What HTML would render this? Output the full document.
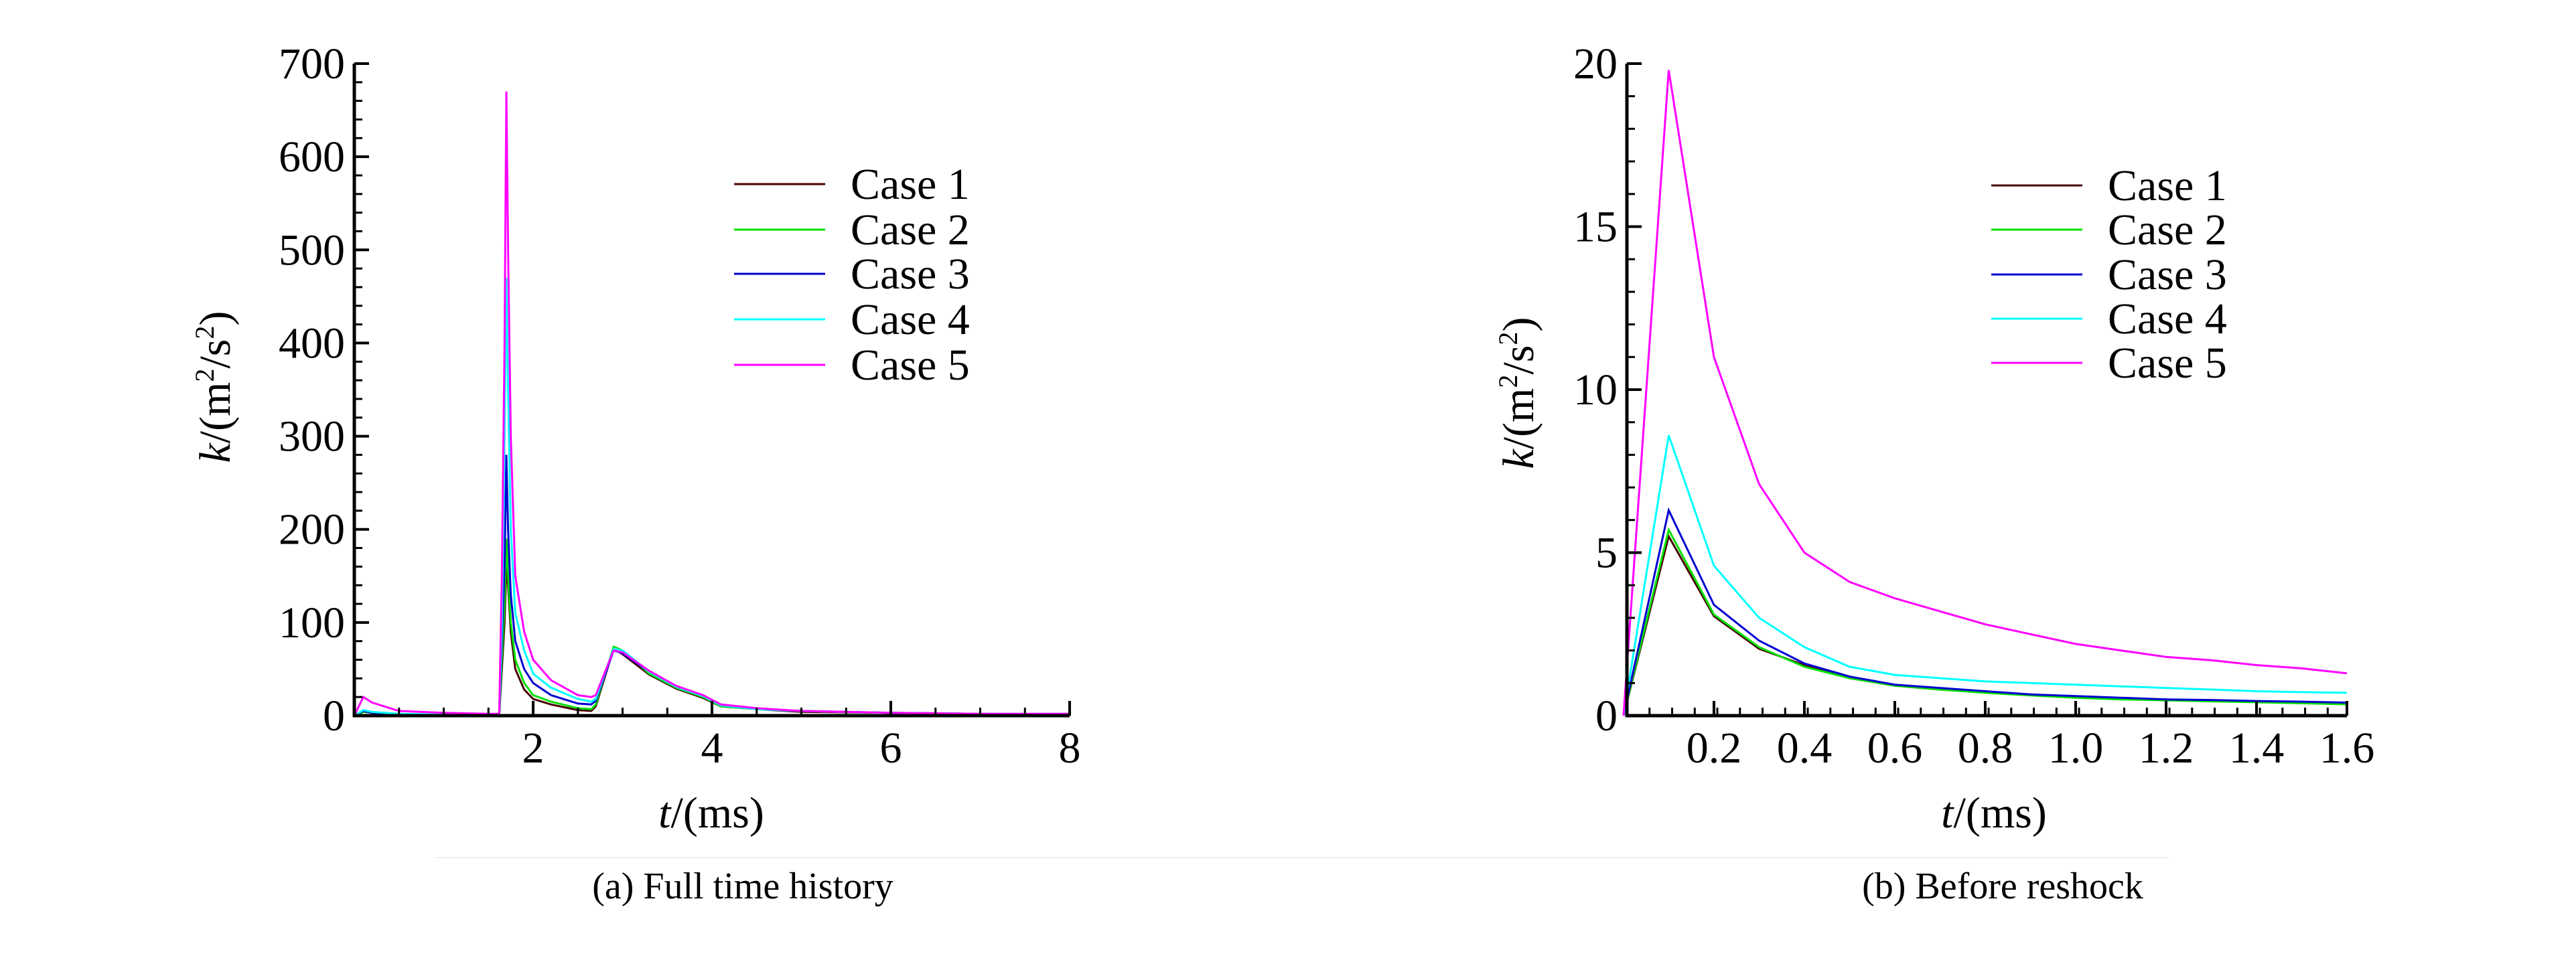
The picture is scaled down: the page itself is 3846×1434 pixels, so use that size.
<!DOCTYPE html>
<html><head><meta charset="utf-8">
<style>
html,body{margin:0;padding:0;background:#fff;}
text, tspan{font-family:"Liberation Serif","DejaVu Serif",serif;}
</style></head>
<body>
<svg id="fig" width="3846" height="1429" viewBox="0 0 3846 1429" xmlns="http://www.w3.org/2000/svg">
<line x1="650" y1="1281" x2="3238" y2="1281" stroke="#eee" stroke-width="2"/>
<text x="1109" y="1342" font-size="56" text-anchor="middle" style="font-family:'Liberation Serif',serif">(a) Full time history</text>
<text x="2990" y="1342" font-size="56" text-anchor="middle" style="font-family:'Liberation Serif',serif">(b) Before reshock</text>
</svg>
<script>
const caseNames = ["Case 1","Case 2","Case 3","Case 4","Case 5"];
const caseColors = ["#4a0000","#00e000","#0000d0","#00ffff","#ff00ff"];
// Panel (a)
const tA = [0,0.1,0.2,0.5,1.0,1.5,1.6,1.62,1.65,1.68,1.7,1.72,1.75,1.8,1.9,2.0,2.2,2.5,2.65,2.7,2.9,3.0,3.3,3.6,3.9,4.1,4.5,5,6,7,8];
const a1 = [0,4,3,1,0.5,0.5,0.5,0,50,100,160,140,90,50,28,18,12,6,5,10,72,66,44,29,19,10,7,4,3,2,1];
const a2 = [0,4,3,1,0.5,0.5,0.5,0,60,120,190,150,100,60,35,22,15,8,7,12,74,70,45,30,20,10,7,5,3,2,1];
const a3 = [0,5,3,1,1,0.5,0.5,0,80,160,280,200,130,80,50,35,22,13,12,16,70,67,47,31,21,11,7,5,3,2,1];
const a4 = [0,6,4,2,1,1,1,0,100,300,470,350,200,110,70,45,30,18,15,18,72,70,47,31,21,11,7,5,3,2,2];
const a5 = [0,20,14,5,3,2,2,0,150,400,670,500,300,150,90,60,38,22,20,22,70,68,48,32,22,12,8,5,3,2,2];
const xTicksA = [2,4,6,8];
const yTicksA = [0,100,200,300,400,500,600,700];
// Panel (b)
const tB = [0,0.1,0.2,0.3,0.4,0.5,0.6,0.7,0.8,0.9,1.0,1.1,1.2,1.3,1.4,1.5,1.6];
const b1 = [0,5.5,3.05,2.05,1.55,1.15,0.92,0.8,0.72,0.65,0.58,0.53,0.5,0.46,0.43,0.4,0.38];
const b2 = [0,5.7,3.1,2.1,1.5,1.15,0.92,0.8,0.7,0.62,0.55,0.5,0.47,0.44,0.41,0.38,0.35];
const b3 = [0,6.3,3.4,2.3,1.6,1.2,0.95,0.85,0.75,0.65,0.6,0.55,0.5,0.48,0.45,0.43,0.4];
const b4 = [0,8.6,4.6,3.0,2.1,1.5,1.25,1.15,1.05,1.0,0.95,0.9,0.85,0.8,0.75,0.72,0.7];
const b5 = [0,19.8,11,7.1,5,4.1,3.6,3.2,2.8,2.5,2.2,2.0,1.8,1.7,1.55,1.45,1.3];
const xTicksB = ["0.2","0.4","0.6","0.8","1.0","1.2","1.4","1.6"];
const yTicksB = [0,5,10,15,20];

const NS="http://www.w3.org/2000/svg";
const svg=document.getElementById('fig');
function mk(tag,attrs,parent){const e=document.createElementNS(NS,tag);for(const k in attrs)e.setAttribute(k,attrs[k]);if(tag==='text')e.setAttribute('style',"font-family:'Liberation Serif',serif");(parent||svg).appendChild(e);return e;}
function ts(parent,txt,attrs){const e=document.createElementNS(NS,'tspan');for(const k in (attrs||{}))e.setAttribute(k,attrs[k]);e.setAttribute('style',"font-family:'Liberation Serif',serif");e.textContent=txt;parent.appendChild(e);return e;}

function panel(o){
  const g=mk('g',{});
  
  
  const X=v=>o.x0+(v-o.xmin)/(o.xmax-o.xmin)*(o.x1-o.x0);
  const Y=v=>o.y0-(v-o.ymin)/(o.ymax-o.ymin)*(o.y0-o.y1);
  o.series.forEach((s,i)=>{
    const p=mk('polyline',{points:o.t.map((t,j)=>X(t).toFixed(1)+','+Y(s[j]).toFixed(1)).join(' '),fill:'none',stroke:caseColors[i],'stroke-width':3},g);
    
    
  });
  for(let v=o.xmin;v<=o.xmax+1e-9;v+=o.xminor){mk('line',{x1:X(v),x2:X(v),y1:o.y0,y2:o.y0-12,stroke:'#000','stroke-width':3},g);}
  for(let v=o.ymin;v<=o.ymax+1e-9;v+=o.yminor){mk('line',{x1:o.x0,x2:o.x0+12,y1:Y(v),y2:Y(v),stroke:'#000','stroke-width':3},g);}
  const ax=mk('path',{d:`M${o.x0},${o.y1} L${o.x0},${o.y0} L${o.x1},${o.y0}`,fill:'none',stroke:'#000','stroke-width':5},g);
  
  
  o.xt.forEach(v=>{
    mk('line',{x1:X(+v),x2:X(+v),y1:o.y0,y2:o.y0-22,stroke:'#000','stroke-width':4},g);
    const t=mk('text',{x:X(+v),y:o.y0+70,'font-size':66,'text-anchor':'middle'},g);t.textContent=v;
    
    
  });
  o.yt.forEach(v=>{
    mk('line',{x1:o.x0,x2:o.x0+22,y1:Y(v),y2:Y(v),stroke:'#000','stroke-width':4},g);
    const t=mk('text',{x:o.x0-14,y:Y(v)+22,'font-size':66,'text-anchor':'end'},g);t.textContent=v;
    
    
  });
  const xl=mk('text',{x:o.xlx,y:1236,'font-size':66,'text-anchor':'middle'},g);
  ts(xl,'t',{'font-style':'italic'}); ts(xl,'/(ms)');
  
  
  const yl=mk('text',{x:0,y:0,'font-size':66,'text-anchor':'middle',transform:`translate(${o.ylx+22},${o.yly}) rotate(-90)`},g);
  ts(yl,'k',{'font-style':'italic'}); ts(yl,'/(m'); ts(yl,'2',{'font-size':40,dy:-24}); ts(yl,'/s',{dy:24}); ts(yl,'2',{'font-size':40,dy:-24}); ts(yl,')',{dy:24});
  
  
  caseNames.forEach((n,i)=>{
    const y=o.legY[i];
    const l=mk('line',{x1:o.legX,x2:o.legX+136,y1:y,y2:y,stroke:caseColors[i],'stroke-width':3},g);
    
    
    const t=mk('text',{x:o.legX+174,y:y+22,'font-size':66},g);t.textContent=n;
    
    
  });
}
panel({name:'chart-full-time-history',x0:529,x1:1597,xmin:0,xmax:8,y0:1069,y1:95,ymin:0,ymax:700,t:tA,series:[a1,a2,a3,a4,a5],xt:xTicksA.map(String),yt:yTicksA,xminor:0.5,yminor:20,xlx:1062,ylx:321,yly:578,legX:1096,legY:[275,343,409,477,545]});
panel({name:'chart-before-reshock',x0:2429,x1:3504,xmin:0.0075,xmax:1.6,y0:1069,y1:95,ymin:0,ymax:20,t:tB,series:[b1,b2,b3,b4,b5],xt:xTicksB,yt:yTicksB,xminor:0.05,yminor:1,xlx:2977,ylx:2267,yly:587,legX:2973,legY:[277,343,410,476,542]});
</script>
</body></html>
